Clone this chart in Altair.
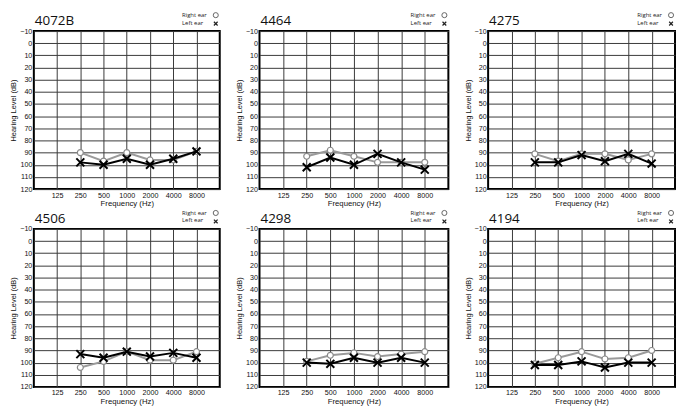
import altair as alt
import pandas as pd

# ---- data ----
freqs = [250, 500, 1000, 2000, 4000, 8000]
tick_freqs = [125, 250, 500, 1000, 2000, 4000, 8000]
db_ticks = [-10, 0, 10, 20, 30, 40, 50, 60, 70, 80, 90, 100, 110, 120]
legend_labels = ["Right ear", "Left ear"]

ids = ["4072B", "4464", "4275", "4506", "4298", "4194"]

right_4072b = [90, 97, 90, 96, 96, 89]
left_4072b = [98, 100, 95, 100, 95, 89]

right_4464 = [93, 88, 93, 98, 98, 98]
left_4464 = [102, 94, 100, 91, 98, 104]

right_4275 = [91, 97, 91, 91, 96, 91]
left_4275 = [98, 98, 92, 97, 91, 99]

right_4506 = [104, 99, 91, 98, 98, 91]
left_4506 = [93, 96, 91, 95, 92, 96]

right_4298 = [99, 94, 92, 95, 93, 91]
left_4298 = [100, 101, 96, 100, 96, 100]

right_4194 = [101, 96, 91, 97, 96, 90]
left_4194 = [102, 102, 99, 104, 100, 100]

rights = [right_4072b, right_4464, right_4275, right_4506, right_4298, right_4194]
lefts = [left_4072b, left_4464, left_4275, left_4506, left_4298, left_4194]

XPATH = "M-1,-1L1,1M-1,1L1,-1"
widths = [187, 190, 188]
H = 159


def panel(pid, right, left, w, h):
    df_r = pd.DataFrame({"freq": freqs, "db": right})
    df_l = pd.DataFrame({"freq": freqs, "db": left})
    x = alt.X(
        "freq:Q",
        scale=alt.Scale(type="log", base=2, domain=[62.5, 16000], nice=False),
        axis=alt.Axis(values=tick_freqs, format="d", title="Frequency (Hz)",
                      grid=True, ticks=False, domain=False, labelPadding=2,
                      titlePadding=1.5, labelFontSize=7.2, titleFontSize=7.8,
                      labelFlush=False),
    )
    y = alt.Y(
        "db:Q",
        scale=alt.Scale(domain=[-10, 120], reverse=True, nice=False, zero=False),
        axis=alt.Axis(values=db_ticks, title="Hearing Level (dB)", grid=True,
                      ticks=False, domain=False, labelPadding=2, titlePadding=2,
                      labelFontSize=7.2, titleFontSize=7.5, labelFlush=False),
    )
    r_line = alt.Chart(df_r).mark_line(color="#9a9a9a", strokeWidth=2).encode(x=x, y=y)
    r_pts = alt.Chart(df_r).mark_point(
        shape="circle", filled=True, fill="white", stroke="#8a8a8a",
        strokeWidth=1.2, size=36, opacity=1).encode(x=x, y=y)
    l_line = alt.Chart(df_l).mark_line(color="black", strokeWidth=2).encode(x=x, y=y)
    l_pts = alt.Chart(df_l).mark_point(
        shape=XPATH, filled=False, stroke="black", strokeWidth=2,
        size=64, opacity=1).encode(x=x, y=y)

    title = alt.Chart(pd.DataFrame({"t": [pid]})).mark_text(
        align="left", baseline="alphabetic", fontSize=13.5, font="Open Sans",
        color="#111"
    ).encode(x=alt.value(1), y=alt.value(-6), text="t:N")
    t1 = alt.Chart(pd.DataFrame({"t": [legend_labels[0]]})).mark_text(
        align="left", baseline="middle", fontSize=6, font="Open Sans", color="#222"
    ).encode(x=alt.value(w - 38), y=alt.value(-16), text="t:N")
    t2 = alt.Chart(pd.DataFrame({"t": [legend_labels[1]]})).mark_text(
        align="left", baseline="middle", fontSize=6, font="Open Sans", color="#222"
    ).encode(x=alt.value(w - 38), y=alt.value(-8.5), text="t:N")
    g1 = alt.Chart(pd.DataFrame({"t": [legend_labels[0]]})).mark_point(
        shape="circle", filled=True, fill="white", stroke="#666", strokeWidth=1,
        size=26, opacity=1).encode(x=alt.value(w - 4), y=alt.value(-16))
    g2 = alt.Chart(pd.DataFrame({"t": [legend_labels[1]]})).mark_point(
        shape=XPATH, filled=False, stroke="#222", strokeWidth=1.2,
        size=14, opacity=1).encode(x=alt.value(w - 4), y=alt.value(-7.5))

    return alt.layer(r_line, r_pts, l_line, l_pts, title, t1, t2, g1, g2).properties(
        width=w, height=h)


panels = [panel(ids[i], rights[i], lefts[i], widths[i % 3], H) for i in range(6)]

chart = alt.concat(*panels, columns=3, spacing=40, bounds="flush").properties(
    padding=0
).configure_view(
    stroke="black", strokeWidth=2
).configure_axis(
    gridColor="#3a3a3a", gridWidth=1, gridOpacity=1,
    labelFont="Liberation Sans", titleFont="Liberation Sans",
    labelColor="#111", titleColor="#111", titleFontWeight="normal",
)

chart.save("out.html", embed_options={"renderer": "svg", "actions": False})
